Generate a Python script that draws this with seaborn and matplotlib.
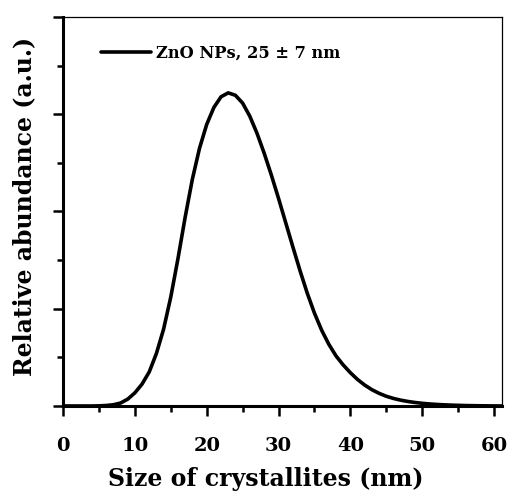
import numpy as np
import pandas as pd
import matplotlib
matplotlib.use("Agg")
import matplotlib.pyplot as plt
import seaborn as sns
from matplotlib.ticker import MultipleLocator

# Values
size_nm = [0, 4, 5, 6, 7, 8, 9, 10, 11, 12, 13, 14, 15, 16, 17, 18, 19, 20,
           21, 22, 23, 24, 25, 26, 27, 28, 29, 30, 31, 32, 33, 34, 35, 36, 37,
           38, 39, 40, 41, 42, 43, 44, 45, 46, 47, 48, 49, 50, 51, 52, 53, 54,
           55, 56, 58, 61.1]
abundance = [0, 0, 0.003, 0.01, 0.025, 0.06, 0.14, 0.27, 0.45, 0.70, 1.08, 1.58,
             2.24, 3.03, 3.88, 4.66, 5.30, 5.79, 6.14, 6.36, 6.44, 6.39, 6.23,
             5.96, 5.61, 5.20, 4.75, 4.27, 3.77, 3.27, 2.78, 2.32, 1.91, 1.56,
             1.27, 1.03, 0.845, 0.685, 0.545, 0.43, 0.335, 0.26, 0.20, 0.155,
             0.12, 0.093, 0.072, 0.055, 0.042, 0.032, 0.024, 0.018, 0.013,
             0.009, 0.004, 0]
series_label = "ZnO NPs, 25 \u00b1 7 nm"
x_label = "Size of crystallites (nm)"
y_label = "Relative abundance (a.u.)"

df = pd.DataFrame({"size": size_nm, "abundance": abundance, "series": series_label})

sns.set_theme(style="white")
plt.rcParams["font.family"] = ["DejaVu Serif"]
plt.rcParams["font.weight"] = "bold"
plt.rcParams["text.color"] = "black"
plt.rcParams["axes.labelcolor"] = "black"
plt.rcParams["xtick.color"] = "black"
plt.rcParams["ytick.color"] = "black"

fig = plt.figure(figsize=(5.07, 4.93), dpi=100)
ax = fig.add_axes([0.1243, 0.1765, 0.990 - 0.1243, 0.9655 - 0.1765])

sns.lineplot(data=df, x="size", y="abundance", hue="series", palette=["black"],
             linewidth=2.6, ax=ax, legend=True)
for ln in ax.get_lines():
    ln.set_solid_joinstyle("round")
    ln.set_solid_capstyle("round")

ax.set_xlim(0, 61.1)
ax.set_ylim(0, 8)
ax.xaxis.set_major_locator(MultipleLocator(10))
ax.xaxis.set_minor_locator(MultipleLocator(5))
ax.yaxis.set_major_locator(MultipleLocator(2))
ax.yaxis.set_minor_locator(MultipleLocator(1))
ax.set_yticklabels([])
ax.tick_params(axis="both", which="major", direction="out", length=7, width=1.8,
               color="black", left=True, bottom=True)
ax.tick_params(axis="both", which="minor", direction="out", length=4.5, width=1.8,
               color="black", left=True, bottom=True)
ax.tick_params(axis="x", labelsize=14, pad=15, labelcolor="black")
for lbl in ax.get_xticklabels():
    lbl.set_fontweight("bold")

for side in ["left", "bottom"]:
    ax.spines[side].set_linewidth(2.2)
for side in ["top", "right"]:
    ax.spines[side].set_linewidth(0.9)
for s in ax.spines.values():
    s.set_color("black")

ax.set_xlabel(x_label, fontsize=17, fontweight="bold", color="black")
ax.set_ylabel(y_label, fontsize=17, fontweight="bold", labelpad=9, color="black")
ax.xaxis.set_label_coords(0.462, -0.156)
ax.yaxis.label.set_y(0.514)

leg = ax.legend(loc="upper left", frameon=False, fontsize=11.7, handlelength=3.08,
                handletextpad=0.3, borderaxespad=0.3, bbox_to_anchor=(0.0597, 0.959))
for t in leg.get_texts():
    t.set_fontweight("bold")
    t.set_color("black")
for l in leg.get_lines():
    l.set_linewidth(2.6)

fig.savefig("out.png", dpi=100)
